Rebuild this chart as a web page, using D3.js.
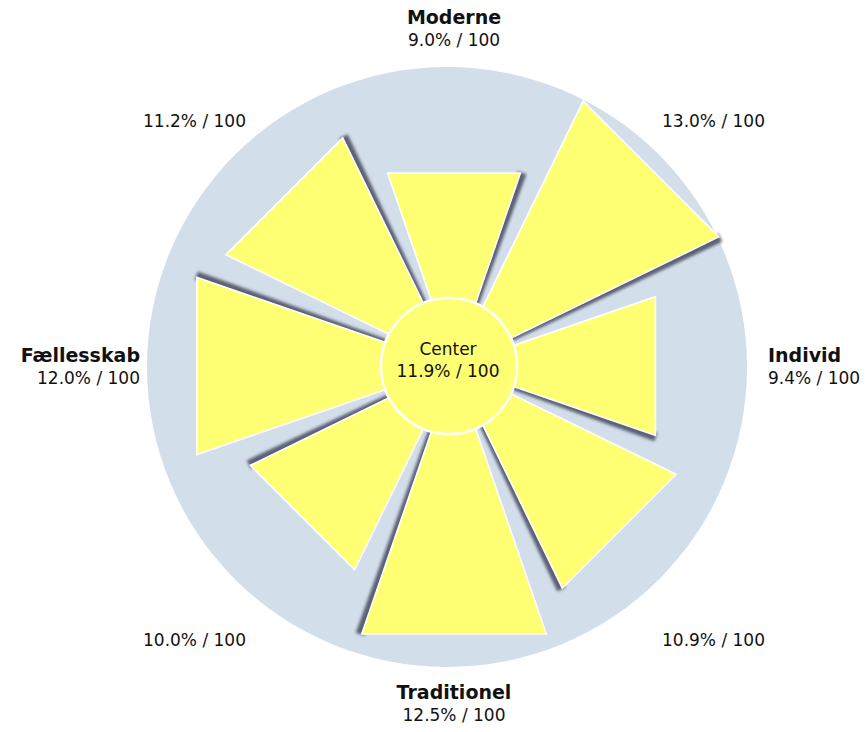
<!DOCTYPE html>
<html>
<head>
<meta charset="utf-8">
<script src="https://cdn.jsdelivr.net/npm/d3@7"></script>
<style>
body { margin: 0; background: #fff; }
svg { display: block; font-family: "DejaVu Sans", Verdana, sans-serif; }
</style>
</head>
<body>
<svg id="chart"></svg>
<script>
// sectors clockwise from the top, empty name = unnamed sector
var names = ["Moderne", "", "Individ", "", "Traditionel", "", "Fællesskab", ""];
var values = [9.0, 13.0, 9.4, 10.9, 12.5, 10.0, 12.0, 11.2];
var centerName = "Center";
var centerValue = 11.9;
var maxScore = 100;

var width = 867, height = 732;
var cx = 454, cy = 366;
var bgRadius = 300, coreRadius = 68;
var half = 19 * Math.PI / 180;      // half opening of one sector
var step = 2 * Math.PI / values.length;

var r = d3.scaleLinear().domain([0, 14]).range([0, bgRadius]);
var fmt = d3.format(".1f");
function scoreText(v) { return fmt(v) + "% / " + maxScore; }

var svg = d3.select("#chart")
    .attr("width", width)
    .attr("height", height);

svg.append("defs").append("filter")
    .attr("id", "soft")
    .attr("filterUnits", "userSpaceOnUse")
    .attr("x", -460).attr("y", -400).attr("width", 920).attr("height", 800)
  .append("feGaussianBlur")
    .attr("stdDeviation", 1.8);

// background disc
svg.append("circle")
    .attr("cx", cx - 7)
    .attr("cy", cy + 1)
    .attr("r", bgRadius)
    .attr("fill", "#d3deeb");

var g = svg.append("g")
    .attr("transform", "translate(" + cx + "," + cy + ")");

var sectors = values.map(function(v, i) {
  return {name: names[i], value: v, angle: i * step};
});

function outerRadius(d) { return r(d.value) / Math.cos(half); }

// dark strip along the clockwise edge of each sector
function shadowStrip(d) {
  var a = d.angle + half, rc = outerRadius(d);
  var n = [Math.cos(a), Math.sin(a)];
  var p0 = d3.pointRadial(a, 40), p1 = d3.pointRadial(a, rc + 1);
  function off(p, k) { return [p[0] + n[0] * k, p[1] + n[1] * k]; }
  return [off(p0, -3), off(p1, -3), off(p1, 6), off(p0, 3)];
}

function wedge(d) {
  var rc = outerRadius(d);
  return [[0, 0], d3.pointRadial(d.angle - half, rc), d3.pointRadial(d.angle + half, rc)];
}

g.selectAll(".shadow")
    .data(sectors)
  .enter().append("polygon")
    .attr("class", "shadow")
    .attr("points", function(d) { return shadowStrip(d).join(" "); })
    .attr("fill", "#454a60")
    .attr("fill-opacity", 0.85)
    .attr("filter", "url(#soft)");

g.selectAll(".sector")
    .data(sectors)
  .enter().append("polygon")
    .attr("class", "sector")
    .attr("points", function(d) { return wedge(d).join(" "); })
    .attr("fill", "#ffff73")
    .attr("stroke", "#fff")
    .attr("stroke-width", 1.6)
    .attr("stroke-linejoin", "miter");

// center disc
svg.append("circle")
    .attr("cx", cx - 5)
    .attr("cy", cy)
    .attr("r", coreRadius)
    .attr("fill", "#ffff73")
    .attr("stroke", "#fff")
    .attr("stroke-width", 2.5);

svg.append("text")
    .attr("x", cx - 6).attr("y", cy - 11)
    .attr("text-anchor", "middle")
    .attr("font-size", 17)
    .attr("fill", "#111")
    .text(centerName);
svg.append("text")
    .attr("x", cx - 6).attr("y", cy + 11)
    .attr("text-anchor", "middle")
    .attr("font-size", 17)
    .attr("fill", "#111")
    .text(scoreText(centerValue));

// outer labels
var labels = svg.selectAll(".label")
    .data(sectors)
  .enter().append("g")
    .attr("class", "label")
    .each(function(d) {
      var dx = Math.round(Math.sin(d.angle)), dy = Math.round(-Math.cos(d.angle));
      var x, yName, yVal;
      if (dy === 0) { x = cx + dx * 314; yName = cy - 4; yVal = cy + 18; }
      else if (dx === 0 && dy < 0) { x = cx; yName = cy - 342; yVal = cy - 320; }
      else if (dx === 0) { x = cx; yName = cy + 333; yVal = cy + 355; }
      else { x = cx + dx * 208; yVal = dy < 0 ? cy - 239 : cy + 280; }
      var anchor = dx < 0 ? "end" : dx > 0 ? "start" : "middle";
      var sel = d3.select(this);
      if (d.name) {
        sel.append("text")
            .attr("x", x).attr("y", yName)
            .attr("text-anchor", anchor)
            .attr("font-size", 19)
            .attr("font-weight", "bold")
            .attr("fill", "#111")
            .text(d.name);
      }
      sel.append("text")
          .attr("x", x).attr("y", yVal)
          .attr("text-anchor", anchor)
          .attr("font-size", 17)
          .attr("fill", "#111")
          .text(scoreText(d.value));
    });
</script>
</body>
</html>
